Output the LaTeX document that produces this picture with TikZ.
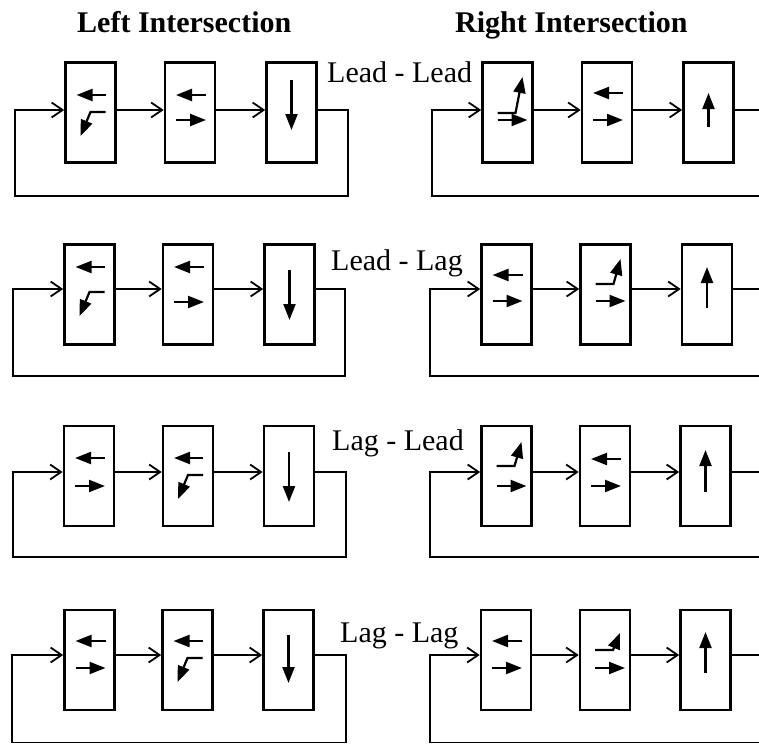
\documentclass[tikz,border=0pt]{standalone}
\usepackage{fontspec}
\setmainfont{Liberation Serif}
\usetikzlibrary{arrows.meta}
\begin{document}
\begin{tikzpicture}[x=1pt,y=-1pt,
  box/.style={draw,line width=2.6pt,minimum width=50pt,minimum height=100pt,inner sep=0pt},
  conn/.style={line width=1.8pt,-{Straight Barb[length=11pt,width=15pt]}},
  gl/.style={line width=2.2pt,-{Triangle[length=16pt,width=12pt]}},
  lbl/.style={anchor=base west,inner sep=0pt,font=\fontsize{30}{36}\selectfont},
  ttl/.style={anchor=base west,inner sep=0pt,font=\fontsize{30}{36}\selectfont\bfseries},
  pics/lr/.style 2 args={code={\draw[gl] (16,#1) -- (-14,#1); \draw[gl] (-14,#2) -- (16,#2);}},
  pics/lturn/.style 2 args={code={\draw[gl] (15,#1) -- (-14,#1); \draw[gl] (15,#2) -- (0,#2) -- (-10,{#2+24});}},
  pics/rturn/.style n args={3}{code={\draw[gl] (-10,#1) -- (8,#1) -- (15,{#1-#2}); \draw[gl] (-10,#3) -- (20,#3);}},
  pics/vert/.style 2 args={code={\draw[gl] (0,#1) -- (0,#2);}}
]
\useasboundingbox (0,0) rectangle (759,744);
\clip (0,0) rectangle (759,744);

% titles
\node[ttl] (h1) at (77,32) {Left Intersection};
\node[ttl] (h2) at (455,32) {Right Intersection};

% labels
\node[lbl] (t1) at (327,82) {Lead - Lead};
\node[lbl] (t2) at (331,270) {Lead - Lag};
\node[lbl] (t3) at (332,450) {Lag - Lead};
\node[lbl] (t4) at (340,642) {Lag - Lag};

% ---------- row 1 ----------
\node[box] (l11) at (90.5,112.5) {};
\node[box] (l12) at (190,112.5) {};
\node[box] (l13) at (291.5,112.5) {};
\node[box] (r11) at (507.5,112.5) {};
\node[box] (r12) at (607,112.5) {};
\node[box] (r13) at (708.5,112.5) {};
\coordinate (y1) at (0,110);
\coordinate (l1ne) at (348,110); \coordinate (l1se) at (348,196);
\coordinate (l1sw) at (15,196);  \coordinate (l1nw) at (15,110);
\coordinate (r1ne) at (800,110); \coordinate (r1se) at (800,196);
\coordinate (r1sw) at (432,196); \coordinate (r1nw) at (432,110);
\draw[conn] (l11.east |- y1) -- (l12.west |- y1);
\draw[conn] (l12.east |- y1) -- (l13.west |- y1);
\draw[conn] (l13.east |- y1) -- (l1ne) -- (l1se) -- (l1sw) -- (l1nw) -- (l11.west |- y1);
\draw[conn] (r11.east |- y1) -- (r12.west |- y1);
\draw[conn] (r12.east |- y1) -- (r13.west |- y1);
\draw[conn] (r13.east |- y1) -- (r1ne) -- (r1se) -- (r1sw) -- (r1nw) -- (r11.west |- y1);
\pic at (l11) {lturn={-17.5}{-0.5}};
\pic at (l12) {lr={-17.5}{7.5}};
\pic at (l13) {vert={-32.5}{17.5}};
\pic at (r11) {rturn={0.5}{36}{7.5}};
\pic at (r12) {lr={-19.5}{7.5}};
\pic at (r13) {vert={14.5}{-19.5}};

% ---------- row 2 ----------
\node[box] (l21) at (89.5,294.5) {};
\node[box] (l22) at (188,294.5) {};
\node[box] (l23) at (289.5,294.5) {};
\node[box] (r21) at (506.5,294.5) {};
\node[box] (r22) at (605.5,294.5) {};
\node[box] (r23) at (707,294.5) {};
\coordinate (y2) at (0,289);
\coordinate (l2ne) at (345,289); \coordinate (l2se) at (345,376);
\coordinate (l2sw) at (13,376);  \coordinate (l2nw) at (13,289);
\coordinate (r2ne) at (800,289); \coordinate (r2se) at (800,376);
\coordinate (r2sw) at (430,376); \coordinate (r2nw) at (430,289);
\draw[conn] (l21.east |- y2) -- (l22.west |- y2);
\draw[conn] (l22.east |- y2) -- (l23.west |- y2);
\draw[conn] (l23.east |- y2) -- (l2ne) -- (l2se) -- (l2sw) -- (l2nw) -- (l21.west |- y2);
\draw[conn] (r21.east |- y2) -- (r22.west |- y2);
\draw[conn] (r22.east |- y2) -- (r23.west |- y2);
\draw[conn] (r23.east |- y2) -- (r2ne) -- (r2se) -- (r2sw) -- (r2nw) -- (r21.west |- y2);
\pic at (l21) {lturn={-27.5}{-2.5}};
\pic at (l22) {lr={-27.5}{7.5}};
\pic at (l23) {vert={-24.5}{25.5}};
\pic at (r21) {lr={-19.5}{6.5}};
\pic at (r22) {rturn={-10.5}{25}{6.5}};
\pic at (r23) {vert={13.5}{-27.5}};

% ---------- row 3 ----------
\node[box] (l31) at (89,476) {};
\node[box] (l32) at (188,476) {};
\node[box] (l33) at (289,476) {};
\node[box] (r31) at (506.5,476) {};
\node[box] (r32) at (605,476) {};
\node[box] (r33) at (705.5,476) {};
\coordinate (y3) at (0,472);
\coordinate (l3ne) at (346,472); \coordinate (l3se) at (346,557);
\coordinate (l3sw) at (13,557);  \coordinate (l3nw) at (13,472);
\coordinate (r3ne) at (800,472); \coordinate (r3se) at (800,557);
\coordinate (r3sw) at (430,557); \coordinate (r3nw) at (430,472);
\draw[conn] (l31.east |- y3) -- (l32.west |- y3);
\draw[conn] (l32.east |- y3) -- (l33.west |- y3);
\draw[conn] (l33.east |- y3) -- (l3ne) -- (l3se) -- (l3sw) -- (l3nw) -- (l31.west |- y3);
\draw[conn] (r31.east |- y3) -- (r32.west |- y3);
\draw[conn] (r32.east |- y3) -- (r33.west |- y3);
\draw[conn] (r33.east |- y3) -- (r3ne) -- (r3se) -- (r3sw) -- (r3nw) -- (r31.west |- y3);
\pic at (l31) {lr={-18}{10}};
\pic at (l32) {lturn={-18}{-1}};
\pic at (l33) {vert={-24}{26}};
\pic at (r31) {rturn={-10}{24}{10}};
\pic at (r32) {lr={-17}{10}};
\pic at (r33) {vert={16}{-26}};

% ---------- row 4 ----------
\node[box] (l41) at (89.5,660) {};
\node[box] (l42) at (187.5,660) {};
\node[box] (l43) at (288.5,660) {};
\node[box] (r41) at (506,660) {};
\node[box] (r42) at (605,660) {};
\node[box] (r43) at (705.5,660) {};
\coordinate (y4) at (0,655);
\coordinate (l4ne) at (346,655); \coordinate (l4se) at (346,742.5);
\coordinate (l4sw) at (12,742.5);  \coordinate (l4nw) at (12,655);
\coordinate (r4ne) at (800,655); \coordinate (r4se) at (800,742.5);
\coordinate (r4sw) at (430,742.5); \coordinate (r4nw) at (430,655);
\draw[conn] (l41.east |- y4) -- (l42.west |- y4);
\draw[conn] (l42.east |- y4) -- (l43.west |- y4);
\draw[conn] (l43.east |- y4) -- (l4ne) -- (l4se) -- (l4sw) -- (l4nw) -- (l41.west |- y4);
\draw[conn] (r41.east |- y4) -- (r42.west |- y4);
\draw[conn] (r42.east |- y4) -- (r43.west |- y4);
\draw[conn] (r43.east |- y4) -- (r4ne) -- (r4se) -- (r4sw) -- (r4nw) -- (r41.west |- y4);
\pic at (l41) {lr={-19}{8}};
\pic at (l42) {lturn={-19}{-2}};
\pic at (l43) {vert={-25}{23}};
\pic at (r41) {lr={-19}{8}};
\pic at (r42) {rturn={-10}{17}{8}};
\pic at (r43) {vert={13}{-28}};
\end{tikzpicture}
\end{document}
